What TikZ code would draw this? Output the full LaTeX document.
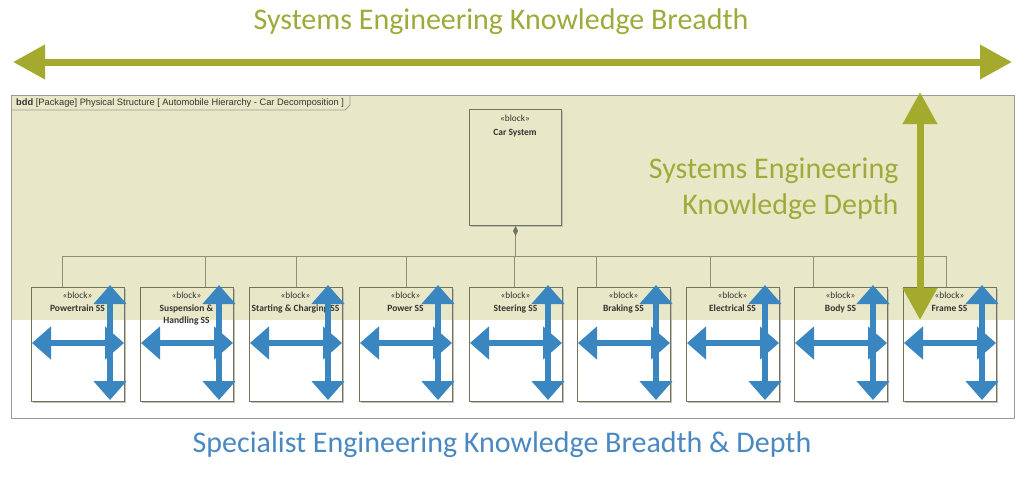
\documentclass[tikz,border=0pt]{standalone}
\usepackage{fontspec}
\setmainfont{Carlito}
\newfontfamily\hdrfont{Liberation Sans}
\usetikzlibrary{arrows.meta}
\definecolor{olivearrow}{HTML}{A3AA2E}
\definecolor{olivetext}{HTML}{9FAA3A}
\definecolor{bgshade}{HTML}{E8E8C8}
\definecolor{bluearrow}{HTML}{3A86C1}
\definecolor{bluetext}{HTML}{4A88C2}
\definecolor{blockline}{HTML}{6E7559}
\definecolor{frameline}{HTML}{9A9A9A}
\tikzset{
  blk/.style={draw=blockline, line width=1.1pt, minimum width=93pt, minimum height=114pt, anchor=north west, inner sep=0pt},
  stereo/.style={font=\fontsize{9.3}{10}\selectfont, text=black!80, anchor=north, inner sep=0pt},
  bname/.style={font=\bfseries\fontsize{9.5}{12}\selectfont, text=black!80, anchor=north, align=center, inner sep=0pt},
  conn/.style={draw=blockline!80, line width=0.8pt},
  bigarrow/.style={draw=olivearrow, line width=7pt, {Triangle[length=32pt,width=33pt]}-{Triangle[length=32pt,width=33pt]}},
  bluearr/.style={draw=bluearrow, line width=6.5pt, {Triangle[length=19pt,width=32pt]}-{Triangle[length=19pt,width=32pt]}},
}
\begin{document}
\begin{tikzpicture}[x=1pt,y=-1pt]
\useasboundingbox (0,0) rectangle (1025,477);
% shaded region and frame
\fill[bgshade] (11,95) rectangle (1014,320);
\node[draw=frameline, line width=0.9pt, minimum width=1003pt, minimum height=323pt, anchor=north west, inner sep=0pt] (frame) at (11,95) {};
\draw[draw=frameline, line width=0.8pt] (11,110) -- (345,110) -- (350,105) -- (350,95);
\node[anchor=west, inner sep=0pt, font=\hdrfont\fontsize{9.3}{10}\selectfont, text=black!80] (hdr) at (16,103) {\textbf{bdd} [Package] Physical Structure [ Automobile Hierarchy - Car Decomposition ]};
% car system
\fill[black!25] (471,111) rectangle (563,227);
\node[blk, fill=bgshade, minimum width=92pt, minimum height=116pt] (car) at (469,109) {};
\node[stereo] (carst) at (515,115) {«block»};
\node[bname] (carnm) at (515,129) {Car System};
% sub blocks
\foreach \n/\L/\txt in {b1/31/Powertrain SS, b2/140/{Suspension \&\\Handling SS}, b3/249/Starting \& Charging SS, b4/359/Power SS, b5/469/Steering SS, b6/577/Braking SS, b7/686/Electrical SS, b8/794/Body SS, b9/903/Frame SS}{
  \fill[black!25] (\L+2,289) rectangle (\L+95,403);
  \fill[bgshade] (\L,287) rectangle (\L+93,320);
  \fill[white] (\L,320) rectangle (\L+93,401);
  \node[blk] (\n) at (\L,287) {};
  \node[stereo] (\n st) at (\L+46.5,292) {«block»};
  \node[bname] (\n nm) at (\L+46.5,305) {\txt};
}
% composition connectors
\coordinate (bus) at (514,256);
\foreach \n/\off in {b1/31, b2/65, b3/47, b4/47, b5/45, b6/19, b7/24, b8/19, b9/43}{
  \draw[conn] ([xshift=\off pt]\n.north west) -- ([xshift=\off pt]\n.north west |- bus);
}
\draw[conn] ([xshift=31pt]b1.north west |- bus) -- ([xshift=43pt]b9.north west |- bus);
\draw[conn] (car.south) -- (car.south |- bus);
\fill[blockline] (car.south) -- ++(-2.5,5) -- ++(2.5,5) -- ++(2.5,-5) -- cycle;
% blue arrows
\foreach \L in {31,140,249,359,469,577,686,794,903}{
  \coordinate (hl\L) at (\L+1,343);
  \coordinate (hr\L) at (\L+93,343);
  \coordinate (vt\L) at (\L+79,285);
  \coordinate (vb\L) at (\L+79,400);
  \draw[bluearr] (hl\L) -- (hr\L);
  \draw[bluearr] (vt\L) -- (vb\L);
}
% olive arrows
\coordinate (hleft) at (13,62);
\coordinate (hright) at (1012,62);
\draw[bigarrow] (hleft) -- (hright);
\coordinate (vtop) at (920,92);
\coordinate (vbot) at (920,320);
\draw[bigarrow] (vtop) -- (vbot);
% texts
\node[font=\fontsize{30}{34}\selectfont, text=olivetext] (t1) at (501,22) {Systems Engineering Knowledge Breadth};
\node[font=\fontsize{30}{36}\selectfont, text=olivetext, align=right, anchor=east] (t2) at (902,189) {Systems Engineering\\Knowledge Depth};
\node[font=\fontsize{30}{34}\selectfont, text=bluetext] (t3) at (502,445) {Specialist Engineering Knowledge Breadth \& Depth};
\end{tikzpicture}
\end{document}
